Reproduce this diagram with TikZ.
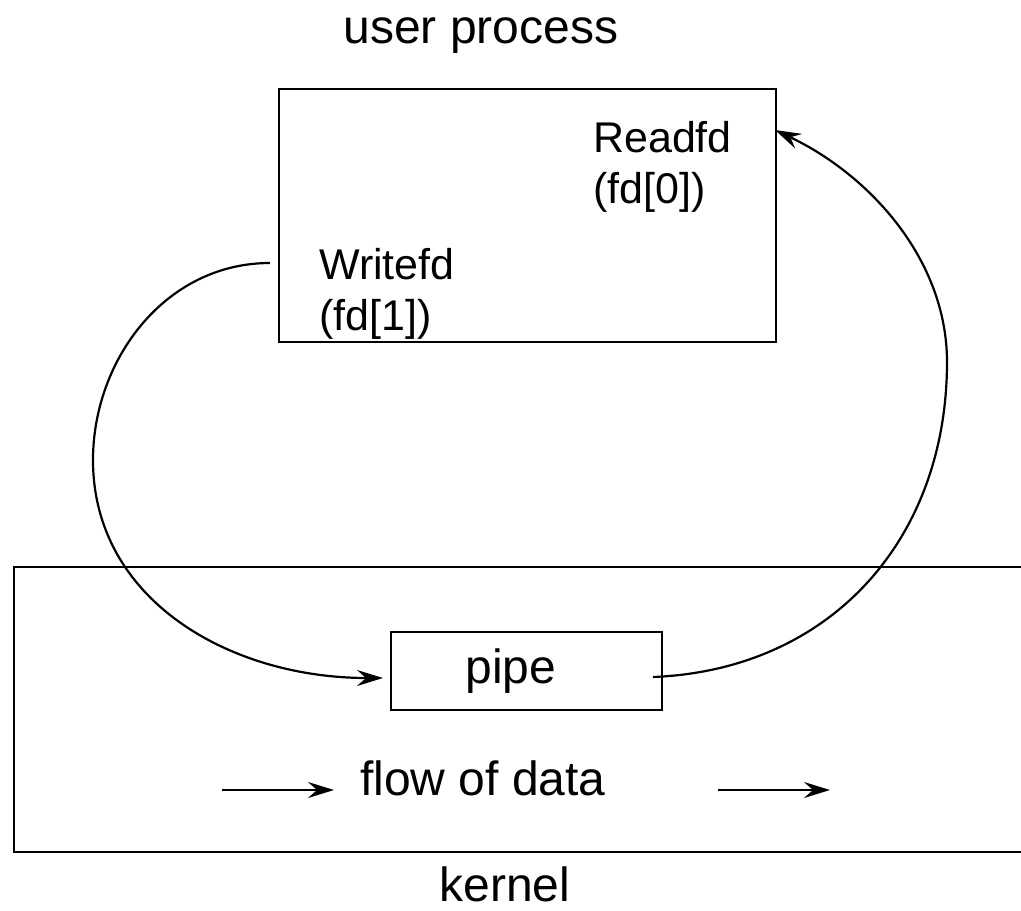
\documentclass[tikz,border=0pt]{standalone}
\usepackage{fontspec}
\setmainfont{Liberation Sans}
\usetikzlibrary{arrows.meta}
\begin{document}
\begin{tikzpicture}[x=1pt,y=-1pt,
  box/.style={draw,line width=2.4pt},
  biglabel/.style={font=\fontsize{48}{54}\selectfont,anchor=base,inner sep=0pt},
  fdlabel/.style={font=\fontsize{43}{49}\selectfont,anchor=base west,inner sep=0pt},
  conn/.style={line width=2.2pt,-{Stealth[length=26pt,width=16pt,inset=9pt]}}]
\useasboundingbox (0,0) rectangle (1021,911);
% user process box
\node[box,minimum width=497pt,minimum height=253pt,inner sep=0pt,anchor=north west] (user) at (278,88) {};
\node[biglabel] (ulabel) at (481,43) {user process};
\node[fdlabel] (readfd) at (593,152) {Readfd};
\node[fdlabel] (readfd0) at (593,203) {(fd[0])};
\node[fdlabel] (writefd) at (319,279) {Writefd};
\node[fdlabel] (writefd1) at (319,330) {(fd[1])};
% kernel box (open on the right)
\coordinate (ktr) at (1021,567);
\coordinate (ktl) at (14,567);
\coordinate (kbl) at (14,852);
\coordinate (kbr) at (1021,852);
\draw[line width=2.4pt] (ktr) -- (ktl) -- (kbl) -- (kbr);
\node[biglabel] (klabel) at (505,901) {kernel};
% pipe
\node[box,minimum width=271pt,minimum height=78pt,inner sep=0pt,anchor=north west] (pipe) at (390,631) {};
\node[biglabel] (plabel) at (511,683) {pipe};
% flow of data
\node[biglabel] (flow) at (483,795) {flow of data};
\coordinate (fa1) at (222,790);
\coordinate (fa2) at (334,790);
\coordinate (fb1) at (718,790);
\coordinate (fb2) at (830,790);
\draw[conn] (fa1) -- (fa2);
\draw[conn] (fb1) -- (fb2);
% connectors
\coordinate (ws) at (270,263);
\coordinate (wl) at (93,460);
\coordinate (pin) at (383,678);
\draw[conn] (ws) .. controls (165,263) and (93,360) .. (wl)
  .. controls (93,600) and (230,678) .. (pin);
\coordinate (pout) at (653,677);
\coordinate (rr) at (947,362);
\coordinate (rin) at (775,130);
\draw[conn] (pout) .. controls (830,670) and (947,540) .. (rr)
  .. controls (947,260) and (870,175) .. (rin);
\end{tikzpicture}
\end{document}
